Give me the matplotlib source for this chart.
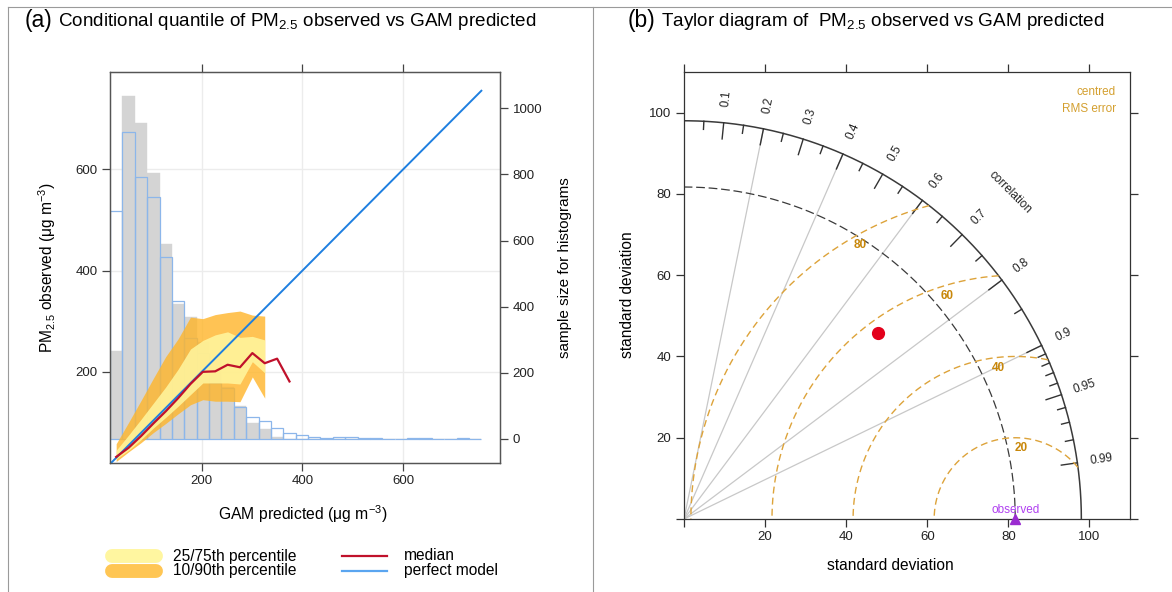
import numpy as np
import matplotlib

matplotlib.use("Agg")
import matplotlib.pyplot as plt
from matplotlib.lines import Line2D
import matplotlib.transforms as mtransforms

plt.rcParams.update(
    {
        "font.family": "Liberation Sans",
        "mathtext.fontset": "custom",
        "mathtext.rm": "Liberation Sans",
        "mathtext.it": "Liberation Sans:italic",
        "mathtext.bf": "Liberation Sans:bold",
        "font.size": 9.5,
    }
)

W, H = 1172, 592

# ---- panel (a): conditional quantiles, 30 bins of predicted PM2.5
bin_lo, bin_hi, n_bins = 18, 755, 30
predicted_counts = [267, 1037, 957, 805, 590, 408, 369, 294, 240, 158, 100, 47, 30, 7,
                    0, 0, 0, 0, 0, 0, 0, 0, 0, 0, 0, 0, 0, 0, 0, 0]
observed_counts = [690, 929, 793, 733, 549, 417, 306, 259, 170, 155, 97, 67, 54, 34,
                   18, 12, 7, 2, 6, 6, 2, 2, 1, 1, 2, 2, 1, 1, 2, 1]
median = [32, 50, 73, 98, 122, 148, 176, 200, 201, 214, 209, 237, 217, 226, 181]
q10 = [23, 42, 60, 80, 98, 117, 135, 145, 142, 142, 141, 190, 148]
q25 = [28, 45, 66, 89, 110, 132, 155, 178, 178, 178, 176, 220, 198]
q75 = [45, 75, 106, 138, 170, 205, 245, 262, 273, 279, 268, 270, 263]
q90 = [58, 100, 143, 187, 230, 265, 308, 305, 313, 317, 320, 312, 310]
perfect = [18, 755]

# ---- panel (b): Taylor diagram
obs_sd = 81.7
model_sd = 66.2
model_r = 0.722
corr_lines = [0.2, 0.4, 0.6, 0.8, 0.9]
corr_labels = [0.1, 0.2, 0.3, 0.4, 0.5, 0.6, 0.7, 0.8, 0.9, 0.95, 0.99]
corr_minor = [0.05, 0.15, 0.25, 0.35, 0.45, 0.55, 0.65, 0.75, 0.85,
              0.91, 0.92, 0.93, 0.94, 0.96, 0.97, 0.98]
rms_levels = [20, 40, 60, 80]
sd_max = 98

ORANGE = "#FFB529"
YELLOW = "#FFF7A0"
RED = "#C0112B"
BLUE = "#1E7FE0"
GOLD = "#DDA33A"


def px_axes(x0, y0, x1, y1):
    return [x0 / W, 1 - y1 / H, (x1 - x0) / W, (y1 - y0) / H]


fig = plt.figure(figsize=(W / 100, H / 100), dpi=100)

# panel frames
for xs, ys in [([8, 8], [7, 592]), ([8, 1172], [7, 7]), ([593, 593], [7, 592])]:
    fig.add_artist(Line2D([x / W for x in xs], [1 - y / H for y in ys], color="#9a9a9a", lw=0.8))

# ================= panel (a) =================
ax = fig.add_axes(px_axes(110, 72, 500, 463))
axh = ax.twinx()
ax.set_zorder(2)
axh.set_zorder(1)
ax.patch.set_visible(False)

ax.set_xlim(18, 792)
ax.set_ylim(20, 792)
axh.set_ylim(-73, 1110)

# grid below histograms
tr = mtransforms.blended_transform_factory(axh.transAxes, ax.transData)
for v in [200, 400, 600]:
    axh.axvline(v, color="#ececec", lw=1.0, zorder=0)
    axh.plot([0, 1], [v, v], color="#ececec", lw=1.0, transform=tr, zorder=0)

edges = np.linspace(bin_lo, bin_hi, n_bins + 1)
bw = edges[1] - edges[0]
centers = edges[:-1] + bw / 2
axh.bar(edges[:-1], predicted_counts, width=bw, align="edge", color="#d4d4d4",
        edgecolor="#d4d4d4", linewidth=0.3, zorder=1)
axh.bar(edges[:-1], observed_counts, width=bw, align="edge", fill=False,
        edgecolor="#8cb6ea", linewidth=0.9, zorder=2)

nb = len(q10)
ax.fill_between(centers[:nb], q10, q90, color=ORANGE, alpha=0.8, lw=0)
ax.fill_between(centers[:nb], q25, q75, color=YELLOW, alpha=0.85, lw=0)
ax.plot(perfect, perfect, color=BLUE, lw=1.4)
ax.plot(centers[:len(median)], median, color=RED, lw=1.6)

ax.set_xticks([200, 400, 600])
ax.set_yticks([200, 400, 600])
axh.set_yticks([0, 200, 400, 600, 800, 1000])
for a in (ax, axh):
    a.tick_params(direction="out", length=5.5, width=0.9, colors="#444444", labelcolor="#222222",
                  labelsize=9.5)
    for s in a.spines.values():
        s.set_color("#555555")
        s.set_linewidth(0.9)
ax.tick_params(top=True)

fig.text(47 / W, 1 - 268 / H, "PM$_{2.5}$ observed (μg m$^{-3}$)", rotation=90,
         ha="center", va="center", fontsize=11.2)
fig.text(565 / W, 1 - 268 / H, "sample size for histograms", rotation=90,
         ha="center", va="center", fontsize=11)
fig.text(303 / W, 1 - 514 / H, "GAM predicted (μg m$^{-3}$)",
         ha="center", va="center", fontsize=11.3)

fig.text(25 / W, 1 - 21 / H, "(a)", ha="left", va="center", fontsize=16.5)
fig.text(58 / W, 1 - 21 / H, "Conditional quantile of PM$_{2.5}$ observed vs GAM predicted",
         ha="left", va="center", fontsize=13.6)

# legend
fig.add_artist(Line2D([112 / W, 156 / W], [1 - 556 / H] * 2, color="#FFF6A0", lw=10,
                      solid_capstyle="round"))
fig.add_artist(Line2D([112 / W, 156 / W], [1 - 571 / H] * 2, color="#FFC654", lw=10,
                      solid_capstyle="round"))
fig.text(173 / W, 1 - 556 / H, "25/75th percentile", va="center", fontsize=11.2)
fig.text(173 / W, 1 - 571 / H, "10/90th percentile", va="center", fontsize=11.2)
fig.add_artist(Line2D([342 / W, 387 / W], [1 - 556 / H] * 2, color=RED, lw=1.6))
fig.add_artist(Line2D([342 / W, 387 / W], [1 - 571 / H] * 2, color="#5aa5f0", lw=1.6))
fig.text(404 / W, 1 - 556 / H, "median", va="center", fontsize=11.2)
fig.text(404 / W, 1 - 571 / H, "perfect model", va="center", fontsize=11.2)

# ================= panel (b) =================
tx = fig.add_axes(px_axes(684, 72, 1130, 519))
tx.set_xlim(0, 110)
tx.set_ylim(0, 110)

th = np.linspace(0, np.pi / 2, 400)
tx.plot(sd_max * np.cos(th), sd_max * np.sin(th), color="#3a3a3a", lw=1.1)
tx.plot(obs_sd * np.cos(th), obs_sd * np.sin(th), color="#3a3a3a", lw=0.9, ls=(0, (7, 3)))

for c in corr_lines:
    a = np.arccos(c)
    tx.plot([0, sd_max * np.cos(a)], [0, sd_max * np.sin(a)], color="#c8c8c8", lw=0.9, zorder=1)
for c in corr_labels:
    a = np.arccos(c)
    tx.plot([(sd_max - 4) * np.cos(a), sd_max * np.cos(a)],
            [(sd_max - 4) * np.sin(a), sd_max * np.sin(a)], color="#333333", lw=1.0)
    tx.text(104 * np.cos(a), 104 * np.sin(a), f"{c:g}", rotation=np.degrees(a),
            ha="center", va="center", fontsize=8.5, color="#222222", rotation_mode="anchor")
for c in corr_minor:
    a = np.arccos(c)
    tx.plot([(sd_max - 2) * np.cos(a), sd_max * np.cos(a)],
            [(sd_max - 2) * np.sin(a), sd_max * np.sin(a)], color="#333333", lw=1.0)
tx.text(80.5, 80.5, "correlation", rotation=-45, ha="center", va="center", fontsize=8.5,
        color="#222222", rotation_mode="anchor")

# centred RMS error arcs around the observed point
tt = np.linspace(0, np.pi, 800)
label_angle = {20: 85, 40: 96.5, 60: 107, 80: 119.5}
for L in rms_levels:
    xs = obs_sd + L * np.cos(tt)
    ys = L * np.sin(tt)
    inside = np.hypot(xs, ys) <= sd_max
    xs = np.where(inside, xs, np.nan)
    tx.plot(xs, ys, color=GOLD, lw=1.0, ls=(0, (5, 3)))
    ang = np.radians(label_angle[L])
    tx.text(obs_sd + (L - 2.5) * np.cos(ang), (L - 2.5) * np.sin(ang), str(L),
            ha="center", va="center", fontsize=8.5, color="#C8870A", fontweight="bold")

tx.text(106.5, 105, "centred", ha="right", va="center", fontsize=8.5, color="#D4A030")
tx.text(106.5, 100.8, "RMS error", ha="right", va="center", fontsize=8.5, color="#D4A030")

mx = model_sd * model_r
my = model_sd * np.sqrt(1 - model_r ** 2)
tx.plot(mx, my, "o", ms=8.5, color="#E3001B", zorder=5)
tx.plot(obs_sd, 0, "^", ms=7, color="#9A2BD0", clip_on=False, zorder=5)
tx.text(obs_sd, 2.3, "observed", ha="center", va="center", fontsize=8.5, color="#B040F0")

tx.set_xticks([0, 20, 40, 60, 80, 100])
tx.set_xticklabels(["", "20", "40", "60", "80", "100"])
tx.set_yticks([0, 20, 40, 60, 80, 100])
tx.set_yticklabels(["", "20", "40", "60", "80", "100"])
tx.tick_params(direction="out", length=5.5, width=0.9, top=True, right=True,
               colors="#333333", labelcolor="#222222", labelsize=9.5)
for s in tx.spines.values():
    s.set_color("#333333")
    s.set_linewidth(0.9)

fig.text(628 / W, 1 - 295 / H, "standard deviation", rotation=90, ha="center", va="center",
         fontsize=11.2)
fig.text(890 / W, 1 - 566 / H, "standard deviation", ha="center", va="center", fontsize=11.2)

fig.text(628 / W, 1 - 21 / H, "(b)", ha="left", va="center", fontsize=16.5)
fig.text(661 / W, 1 - 21 / H, "Taylor diagram of  PM$_{2.5}$ observed vs GAM predicted",
         ha="left", va="center", fontsize=13.6)

fig.savefig("out.png", dpi=100)
